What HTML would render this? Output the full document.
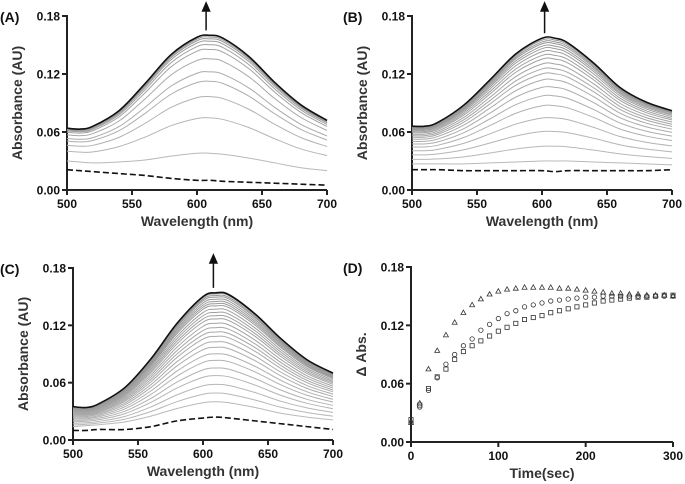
<!DOCTYPE html>
<html><head><meta charset="utf-8"><style>
body{margin:0;background:#fff}
svg{display:block;font-family:"Liberation Sans",Arial,sans-serif;font-weight:bold}
</style></head><body>
<svg id="s" width="685" height="484" viewBox="0 0 685 484"></svg>
<script>
// ---------- data ----------
const wl = [500,510,520,540,560,580,600,610,620,640,660,680,700];
// Panel A
const aTop   = [0.064,0.063,0.066,0.082,0.110,0.140,0.158,0.160,0.157,0.138,0.111,0.088,0.072];
const aLow   = [0.030,0.029,0.028,0.029,0.031,0.035,0.038,0.038,0.037,0.033,0.028,0.023,0.020];
const aDash  = [0.021,0.020,0.019,0.017,0.015,0.012,0.010,0.010,0.009,0.008,0.007,0.006,0.005];
const aFrac  = [0,0.30,0.48,0.61,0.69,0.80,0.88,0.92,0.95,0.97,0.985];
// Panel B
const bTop   = [0.066,0.066,0.070,0.088,0.114,0.141,0.157,0.157,0.152,0.131,0.106,0.091,0.082];
const bLow   = [0.027,0.027,0.027,0.027,0.028,0.029,0.030,0.030,0.030,0.029,0.028,0.027,0.026];
const bDash  = [0.021,0.021,0.021,0.020,0.020,0.020,0.020,0.019,0.020,0.020,0.020,0.020,0.021];
const bFrac  = [0,0.12,0.24,0.35,0.45,0.53,0.60,0.66,0.71,0.75,0.79,0.83,0.86,0.89,0.915,0.935,0.955,0.97,0.985];
// Panel C
const cTop   = [0.035,0.034,0.038,0.055,0.085,0.122,0.150,0.154,0.152,0.132,0.106,0.084,0.070];
const cLow   = [0.014,0.015,0.016,0.019,0.025,0.033,0.039,0.040,0.039,0.034,0.028,0.024,0.021];
const cDash  = [0.010,0.010,0.011,0.011,0.014,0.020,0.023,0.024,0.023,0.020,0.017,0.014,0.011];
const cFrac  = [0,0.08,0.16,0.24,0.31,0.38,0.44,0.50,0.55,0.60,0.64,0.68,0.72,0.76,0.79,0.82,0.85,0.88,0.90,0.92,0.94,0.96,0.975,0.99];
// Panel D
const dTime = [0,10,20,30,40,50,60,70,80,90,100,110,120,130,140,150,160,170,180,190,200,210,220,230,240,250,260,270,280,290,300];
const dTri = [0.020,0.040,0.075,0.094,0.110,0.123,0.133,0.141,0.147,0.152,0.155,0.157,0.158,0.159,0.159,0.159,0.159,0.158,0.158,0.157,0.156,0.155,0.154,0.153,0.153,0.152,0.152,0.151,0.151,0.151,0.150];
const dCirc = [0.020,0.036,0.053,0.066,0.080,0.090,0.099,0.106,0.115,0.121,0.127,0.132,0.135,0.139,0.141,0.143,0.145,0.146,0.147,0.148,0.149,0.149,0.150,0.150,0.150,0.150,0.150,0.150,0.150,0.150,0.150];
const dSq = [0.023,0.038,0.055,0.067,0.075,0.085,0.093,0.099,0.104,0.109,0.114,0.118,0.122,0.126,0.128,0.130,0.133,0.135,0.137,0.139,0.141,0.143,0.145,0.146,0.147,0.148,0.149,0.149,0.150,0.151,0.151];
const yTicks = ["0.00","0.06","0.12","0.18"];
const wlTicks = [500,550,600,650,700];
const tTicks = [0,100,200,300];

const NS="http://www.w3.org/2000/svg";
const svg=document.getElementById('s');
function el(tag,attrs,parent){const e=document.createElementNS(NS,tag);for(const k in attrs)e.setAttribute(k,attrs[k]);(parent||svg).appendChild(e);return e;}
function smooth(pts){let d="M"+pts[0][0]+","+pts[0][1];for(let i=0;i<pts.length-1;i++){const p0=pts[i-1]||pts[i],p1=pts[i],p2=pts[i+1],p3=pts[i+2]||p2;const c1x=p1[0]+(p2[0]-p0[0])/6,c1y=p1[1]+(p2[1]-p0[1])/6,c2x=p2[0]-(p3[0]-p1[0])/6,c2y=p2[1]-(p3[1]-p1[1])/6;d+=`C${c1x},${c1y} ${c2x},${c2y} ${p2[0]},${p2[1]}`;}return d;}

function axes(g,P,xt,xTitle,yTitle,label){
  const X=v=>P.x0+(v-P.xmin)/(P.xmax-P.xmin)*(P.x1-P.x0);
  const Y=v=>P.y0-v/0.18*(P.y0-P.y1);
  const ax=el('path',{d:`M${P.x0},${P.y1-1}V${P.y0}H${P.x1}`,stroke:'#222','stroke-width':2,fill:'none'},g);
  
  
  yTicks.forEach(t=>{const y=Y(+t);el('line',{x1:P.x0-5,x2:P.x0,y1:y,y2:y,stroke:'#222','stroke-width':2},g);
    const tx=el('text',{x:P.x0-7,y:y+4.5,'text-anchor':'end','font-size':12,fill:'#111'},g);tx.textContent=t;
    
    });
  xt.forEach(t=>{const x=X(t);el('line',{x1:x,x2:x,y1:P.y0,y2:P.y0+5,stroke:'#222','stroke-width':2},g);
    const tx=el('text',{x:x,y:P.y0+18,'text-anchor':'middle','font-size':12,fill:'#111'},g);tx.textContent=t;
    
    });
  const xl=el('text',{x:(P.x0+P.x1)/2,y:P.y0+36,'text-anchor':'middle','font-size':14,fill:'#333'},g);xl.textContent=xTitle;
  
  
  const yc=(P.y0+P.y1)/2,yx=P.x0-45;
  const yl=el('text',{x:yx,y:yc,'text-anchor':'middle','font-size':14,fill:'#333',transform:`rotate(-90 ${yx} ${yc})`},g);yl.textContent=yTitle;
  
  
  const pl=el('text',{x:P.lx,y:P.y1+6,'font-size':14,fill:'#111'},g);pl.textContent=label;
  
  
  return {X,Y};
}

function spectra(name,P,top,low,dash,frac,label,arrowWl){
  const g=el('g',{});
  
  
  const {X,Y}=axes(g,P,wlTicks,'Wavelength (nm)','Absorbance (AU)',label);
  frac.forEach((f,i)=>{
    const pts=wl.map((w,j)=>[X(w),Y(low[j]+f*(top[j]-low[j]))]);
    const shade=Math.round(185-i*(40/frac.length));
    const p=el('path',{d:smooth(pts),stroke:`rgb(${shade},${shade},${shade})`,'stroke-width':1,fill:'none'},g);
    
    
  });
  const tp=el('path',{d:smooth(wl.map((w,j)=>[X(w),Y(top[j])])),stroke:'#111','stroke-width':1.6,fill:'none'},g);
  
  
  const dp=el('path',{d:smooth(wl.map((w,j)=>[X(w),Y(dash[j])])),stroke:'#111','stroke-width':1.6,fill:'none','stroke-dasharray':'6,3'},g);
  
  
  const ax=X(arrowWl),top0=Y(Math.max(...top));
  const ar=el('path',{d:`M${ax},${top0-5}V${P.y1-8}M${ax-3.5},${P.y1-5}L${ax},${P.y1-13}L${ax+3.5},${P.y1-5}Z`,stroke:'#111','stroke-width':1.5,fill:'#111'},g);
  
  
}

spectra('panel-a',{x0:67,x1:327,y0:190,y1:16,xmin:500,xmax:700,lx:0},aTop,aLow,aDash,aFrac,'(A)',607);
spectra('panel-b',{x0:412,x1:672,y0:190,y1:16,xmin:500,xmax:700,lx:343},bTop,bLow,bDash,bFrac,'(B)',602);
spectra('panel-c',{x0:73,x1:333,y0:440,y1:268,xmin:500,xmax:700,lx:0},cTop,cLow,cDash,cFrac,'(C)',608);

(function(){
  const P={x0:411,x1:673,y0:442,y1:267,xmin:0,xmax:300,lx:343};
  const g=el('g',{});
  
  
  const {X,Y}=axes(g,P,tTicks,'Time(sec)','Δ Abs.','(D)');
  dTime.forEach((t,i)=>{
    const x=X(t);
    let y=Y(dTri[i]);
    const tr=el('path',{d:`M${x},${y-2.6}L${x+2.5},${y+1.8}L${x-2.5},${y+1.8}Z`,stroke:'#333','stroke-width':0.8,fill:'none'},g);
    
    
    y=Y(dCirc[i]);
    const c=el('circle',{cx:x,cy:y,r:2.2,stroke:'#333','stroke-width':0.8,fill:'none'},g);
    
    
    y=Y(dSq[i]);
    const s=el('rect',{x:x-2.1,y:y-2.1,width:4.2,height:4.2,stroke:'#333','stroke-width':0.8,fill:'none'},g);
    
    
  });
})();
</script>
</body></html>
